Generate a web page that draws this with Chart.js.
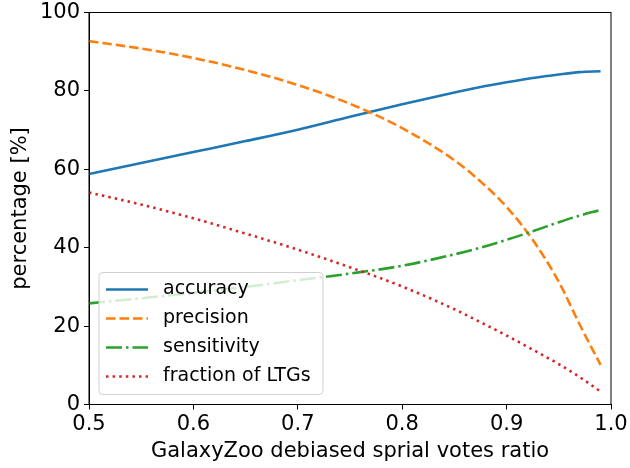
<!DOCTYPE html>
<html><head><meta charset="utf-8">
<script src="https://cdn.jsdelivr.net/npm/chart.js@4"></script>
<style>html,body{margin:0;padding:0;background:#fff}#wrap{width:630px;height:468px}</style>
</head><body><div id="wrap"><canvas id="c" width="630" height="468"></canvas></div>
<script>
const ratios      = [0.50, 0.55, 0.60, 0.65, 0.70, 0.75, 0.80, 0.85, 0.875, 0.90, 0.925, 0.95, 0.97, 0.99];
const accuracy    = [58.8, 61.6, 64.4, 67.2, 70.1, 73.4, 76.6, 79.6, 81.0, 82.2, 83.3, 84.2, 84.8, 85.0];
const precision   = [92.7, 90.8, 88.4, 85.3, 81.5, 76.7, 70.5, 62.3, 56.9, 50.4, 42.0, 31.3, 20.4, 10.1];
const sensitivity = [25.8, 27.1, 28.5, 30.0, 31.7, 33.4, 35.4, 38.3, 40.0, 42.0, 44.2, 46.5, 48.2, 49.6];
const fractionLTG = [54.1, 51.0, 47.5, 43.6, 39.5, 35.0, 30.1, 24.3, 21.0, 17.6, 14.0, 10.3, 7.0, 3.3];
const seriesNames = ['accuracy', 'precision', 'sensitivity', 'fraction of LTGs'];
const xTicks = [0.5, 0.6, 0.7, 0.8, 0.9, 1.0];
const yTicks = [0, 20, 40, 60, 80, 100];

const FONT = 'DejaVu Sans';
const pts = arr => ratios.map((x, i) => ({x, y: arr[i]}));
const styles = [
  {c:'#1f77b4', d:[]},
  {c:'#ff7f0e', d:[9.5, 4]},
  {c:'#2ca02c', d:[16, 4, 2.5, 4]},
  {c:'#d62728', d:[2.5, 4.1]}
];
const values = [accuracy, precision, sensitivity, fractionLTG];
const datasets = values.map((v, i) => ({
  label: seriesNames[i], data: pts(v),
  borderColor: styles[i].c, borderDash: styles[i].d, borderWidth: 2.6,
  pointRadius: 0, fill: false, cubicInterpolationMode: 'monotone',
  borderCapStyle: 'butt', order: 4 - i
}));

const framePlugin = {
  id: 'frame',
  afterDatasetsDraw(chart) {
    const {ctx, chartArea: a} = chart;
    ctx.save();
    ctx.strokeStyle = '#000'; ctx.lineWidth = 1; ctx.setLineDash([]);
    ctx.strokeRect(a.left, a.top, a.right - a.left, a.bottom - a.top);
    const lx = a.left + 10, lw = 224, lh = 122, ly = a.bottom - 10 - lh;
    ctx.beginPath();
    if (ctx.roundRect) ctx.roundRect(lx, ly, lw, lh, 4); else ctx.rect(lx, ly, lw, lh);
    ctx.fillStyle = 'rgba(255,255,255,0.8)'; ctx.fill();
    ctx.strokeStyle = '#d0d0d0'; ctx.lineWidth = 1; ctx.stroke();
    ctx.font = '19px "' + FONT + '"'; ctx.textBaseline = 'middle'; ctx.fillStyle = '#000';
    chart.data.datasets.forEach((ds, i) => {
      const y = ly + 17 + i * 29;
      ctx.beginPath(); ctx.setLineDash(ds.borderDash); ctx.lineDashOffset = 0;
      ctx.strokeStyle = ds.borderColor; ctx.lineWidth = ds.borderWidth;
      ctx.moveTo(lx + 7, y); ctx.lineTo(lx + 49, y); ctx.stroke();
      ctx.setLineDash([]);
      ctx.fillText(ds.label, lx + 64, y);
    });
    ctx.restore();
  }
};

new Chart(document.getElementById('c'), {
  type: 'line',
  data: {datasets},
  plugins: [framePlugin],
  options: {
    responsive: false, animation: false,
    layout: {padding: {left: 0, right: 19, top: 12.5, bottom: 0}},
    plugins: {legend: {display: false}, tooltip: {enabled: false}},
    scales: {
      x: {
        type: 'linear', min: 0.5, max: 1.0,
        afterBuildTicks: s => { s.ticks = xTicks.map(v => ({value: v})); },
        afterFit: s => { s.height = 63.5; s.paddingLeft = 0; s.paddingRight = 0; },
        ticks: {font: {family: FONT, size: 21}, color: '#000', padding: 2,
                callback: v => v.toFixed(1), maxRotation: 0, autoSkip: false},
        grid: {display: true, drawOnChartArea: false, drawTicks: true, tickLength: 5, color: '#000'},
        border: {display: true, color: '#000', width: 1},
        title: {display: true, text: 'GalaxyZoo debiased sprial votes ratio',
                font: {family: FONT, size: 21}, color: '#000', padding: {top: 0, bottom: 4}}
      },
      y: {
        type: 'linear', min: 0, max: 100,
        afterBuildTicks: s => { s.ticks = yTicks.map(v => ({value: v})); },
        afterFit: s => { s.width = 89; s.paddingTop = 0; s.paddingBottom = 0; },
        ticks: {font: {family: FONT, size: 21}, color: '#000', padding: 4, autoSkip: false},
        grid: {display: true, drawOnChartArea: false, drawTicks: true, tickLength: 5, color: '#000'},
        border: {display: true, color: '#000', width: 1},
        title: {display: true, text: 'percentage [%]',
                font: {family: FONT, size: 21}, color: '#000', padding: {top: 8, bottom: 0}}
      }
    }
  }
});
</script></body></html>
